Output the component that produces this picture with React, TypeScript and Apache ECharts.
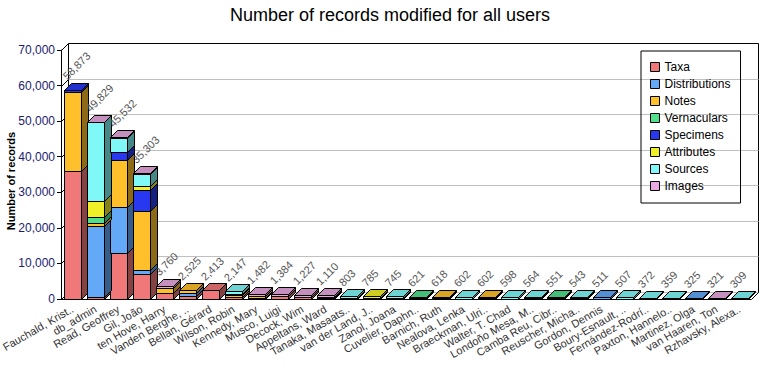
import React, { useEffect, useRef } from "react";
import * as echarts from "echarts";

const chartTitle = "Number of records modified for all users";
const yAxisTitle = "Number of records";

const categories = [
  "Fauchald, Krist..", "db_admin", "Read, Geoffrey", "Gil, João", "ten Hove, Harry",
  "Vanden Berghe, ..", "Bellan, Gérard", "Wilson, Robin", "Kennedy, Mary", "Musco, Luigi",
  "Decock, Wim", "Appeltans, Ward", "Tanaka, Masaats..", "van der Land, J..", "Zanol, Joana",
  "Cuvelier, Daphn..", "Barnich, Ruth", "Nealova, Lenka", "Braeckman, Ulri..", "Walter, T. Chad",
  "Londoño Mesa, M..", "Camba Reu, Cibr..", "Reuscher, Micha..", "Gordon, Dennis", "Boury-Esnault, ..",
  "Fernández-Rodrí..", "Paxton, Hannelo..", "Martinez, Olga", "van Haaren, Ton", "Rzhavsky, Alexa..",
];

const seriesNames = ["Taxa", "Distributions", "Notes", "Vernaculars", "Specimens", "Attributes", "Sources", "Images"];
const seriesColors = ["#f07878", "#64a8f8", "#ffc02c", "#50e08c", "#2838f0", "#f0f028", "#80f8f8", "#e8a8e0"];

const taxa = [36070, 450, 13020, 6940, 1800, 900, 2413, 600, 0, 800, 700, 400, 200, 200, 0, 200, 200, 0, 150, 0, 0, 0, 0, 0, 0, 0, 0, 0, 0, 0];
const distributions = [0, 20070, 12930, 1210, 0, 900, 0, 0, 300, 0, 0, 0, 0, 0, 0, 0, 0, 0, 0, 0, 0, 150, 0, 511, 0, 0, 0, 325, 0, 0];
const notes = [22200, 930, 13250, 16590, 1300, 725, 0, 400, 500, 0, 0, 0, 0, 0, 0, 0, 418, 0, 452, 0, 0, 0, 0, 0, 0, 0, 0, 0, 0, 0];
const vernaculars = [0, 1520, 0, 0, 0, 0, 0, 0, 0, 0, 0, 0, 0, 0, 0, 421, 0, 0, 0, 0, 0, 401, 0, 0, 0, 0, 0, 0, 0, 0];
const specimens = [603, 0, 2210, 5810, 0, 0, 0, 400, 0, 0, 0, 300, 0, 0, 250, 0, 0, 100, 0, 0, 150, 0, 150, 0, 0, 0, 0, 0, 0, 0];
const attributes = [0, 4670, 0, 1220, 0, 0, 0, 0, 0, 0, 0, 0, 0, 585, 0, 0, 0, 0, 0, 0, 0, 0, 0, 0, 0, 0, 0, 0, 0, 0];
const sources = [0, 22059, 3940, 3433, 0, 0, 0, 747, 0, 0, 0, 0, 603, 0, 495, 0, 0, 502, 0, 598, 414, 0, 393, 0, 507, 372, 359, 0, 0, 309];
const images = [0, 130, 182, 100, 660, 0, 0, 0, 682, 584, 527, 410, 0, 0, 0, 0, 0, 0, 0, 0, 0, 0, 0, 0, 0, 0, 0, 0, 321, 0];

const yTicks = [0, 10000, 20000, 30000, 40000, 50000, 60000, 70000];

const FONT = "'Liberation Sans', Arial, sans-serif";

function shade(hex: string, f: number) {
  const n = parseInt(hex.slice(1), 16);
  const r = Math.round(((n >> 16) & 255) * f);
  const g = Math.round(((n >> 8) & 255) * f);
  const b = Math.round((n & 255) * f);
  return `rgb(${r},${g},${b})`;
}

const fmt = (v: number) => v.toLocaleString("en-US");

export default function App() {
  const ref = useRef<HTMLDivElement>(null);

  useEffect(() => {
    document.body.style.margin = "0";
    const chart = echarts.init(ref.current as HTMLDivElement, null, { renderer: "svg" });

    const valueSets = [taxa, distributions, notes, vernaculars, specimens, attributes, sources, images];
    const starts: number[][] = [];
    const running = categories.map(() => 0);
    valueSets.forEach((arr) => {
      starts.push(running.slice());
      arr.forEach((v, i) => (running[i] += v));
    });
    const totals = running.slice();

    const depthOf = (api: any) => Math.round(api.size([1, 0])[0] * 0.3);

    const wallSeries: any = {
      type: "custom",
      name: "_wall",
      silent: true,
      clip: false,
      z: 1,
      data: yTicks.map((v) => [0, v]),
      encode: { x: 0, y: 1 },
      renderItem: (params: any, api: any) => {
        const cs = params.coordSys;
        const d = depthOf(api);
        const v = api.value(1);
        const y = Math.round(api.coord([0, v])[1]) + 0.5;
        const left = Math.round(cs.x) + 0.5;
        const right = Math.round(cs.x + cs.width) + 0.5;
        const top = Math.round(cs.y) + 0.5;
        const bottom = Math.round(cs.y + cs.height) + 0.5;
        const isTop = params.dataIndex === yTicks.length - 1;
        const children: any[] = [
          {
            type: "line",
            shape: { x1: left + d, y1: y - d, x2: right + d, y2: y - d },
            style: { stroke: isTop ? "#000" : "#c0c0c0", lineWidth: 1 },
          },
          {
            type: "line",
            shape: { x1: left, y1: y, x2: left + d, y2: y - d },
            style: { stroke: "#000", lineWidth: 1 },
          },
        ];
        if (params.dataIndex === 0) {
          children.push(
            { type: "line", shape: { x1: left + d, y1: top - d, x2: left + d, y2: bottom - d }, style: { stroke: "#000", lineWidth: 1 } },
            { type: "line", shape: { x1: right + d, y1: top - d, x2: right + d, y2: bottom - d }, style: { stroke: "#000", lineWidth: 1 } },
            { type: "line", shape: { x1: right, y1: bottom, x2: right + d, y2: bottom - d }, style: { stroke: "#000", lineWidth: 1 } }
          );
        }
        return { type: "group", children };
      },
    };

    const barSeries: any[] = valueSets.map((arr, k) => ({
      type: "custom",
      name: seriesNames[k],
      clip: false,
      z: 2,
      itemStyle: { color: seriesColors[k] },
      data: categories.map((_, i) => [i, starts[k][i], starts[k][i] + arr[i]]),
      encode: { x: 0, y: [1, 2] },
      renderItem: (params: any, api: any) => {
        const i = api.value(0);
        const lo = api.value(1);
        const hi = api.value(2);
        if (!(hi > lo)) return null;
        const band = api.size([1, 0])[0];
        const w = band * 0.7;
        const d = depthOf(api);
        const cb = api.coord([i, lo]);
        const ct = api.coord([i, hi]);
        const x0 = Math.round(cb[0] - w / 2) + 0.5;
        const x1 = Math.round(cb[0] + w / 2) + 0.5;
        const yb = Math.round(cb[1]) + 0.5;
        const yt = Math.round(ct[1]) + 0.5;
        const col = seriesColors[k];
        return {
          type: "group",
          children: [
            {
              type: "rect",
              shape: { x: x0, y: yt, width: x1 - x0, height: Math.max(0, yb - yt) },
              style: { fill: col, stroke: "#000", lineWidth: 1 },
            },
            {
              type: "polygon",
              shape: { points: [[x1, yb], [x1 + d, yb - d], [x1 + d, yt - d], [x1, yt]] },
              style: { fill: shade(col, 0.55), stroke: "#000", lineWidth: 1 },
            },
            {
              type: "polygon",
              shape: { points: [[x0, yt], [x1, yt], [x1 + d, yt - d], [x0 + d, yt - d]] },
              style: { fill: shade(col, 0.85), stroke: "#000", lineWidth: 1 },
            },
          ],
        };
      },
    }));

    const labelSeries: any = {
      type: "custom",
      name: "_labels",
      silent: true,
      clip: false,
      z: 3,
      data: totals.map((t, i) => [i, t]),
      encode: { x: 0, y: 1 },
      renderItem: (params: any, api: any) => {
        const p = api.coord([api.value(0), api.value(1)]);
        return {
          type: "text",
          x: p[0] - 4,
          y: p[1] - 8,
          rotation: Math.PI / 4,
          style: {
            text: fmt(api.value(1)),
            fill: "#555",
            fontSize: 11,
            fontFamily: FONT,
            align: "left",
            verticalAlign: "bottom",
          },
        };
      },
    };

    chart.setOption({
      animation: false,
      textStyle: { fontFamily: FONT },
      title: {
        text: chartTitle,
        left: "center",
        top: 6,
        padding: 0,
        textStyle: { fontSize: 18, fontWeight: "normal", color: "#000", fontFamily: FONT },
      },
      legend: {
        data: seriesNames,
        orient: "vertical",
        left: 641,
        top: 51,
        padding: [10, 10, 11, 9],
        itemGap: 5,
        itemWidth: 9,
        itemHeight: 9,
        icon: "rect",
        borderColor: "#000",
        borderWidth: 1,
        itemStyle: { borderColor: "#000", borderWidth: 1 },
        textStyle: { fontSize: 12, color: "#000", fontFamily: FONT, padding: [0, 0, 0, 0] },
      },
      grid: { left: 61, right: 29, top: 50, bottom: 81, containLabel: false, outerBoundsMode: "none" },
      xAxis: {
        type: "category",
        data: categories,
        axisLine: { lineStyle: { color: "#000", width: 1 } },
        axisTick: { alignWithLabel: true, length: 5, lineStyle: { color: "#000" } },
        axisLabel: { interval: 0, rotate: 30, fontSize: 11, color: "#333", margin: 9, fontFamily: FONT },
        splitLine: { show: false },
      },
      yAxis: {
        type: "value",
        min: 0,
        max: 70000,
        interval: 10000,
        name: yAxisTitle,
        nameLocation: "middle",
        nameGap: 45,
        nameMoveOverlap: false,
        nameRotate: 90,
        nameTextStyle: { fontSize: 11, fontWeight: "bold", color: "#000", fontFamily: FONT, padding: [0, 13, 0, 0] },
        axisLine: { show: true, lineStyle: { color: "#000", width: 1 } },
        axisTick: { show: true, length: 4, lineStyle: { color: "#000" } },
        axisLabel: { fontSize: 12, color: "#1c1c70", margin: 6, fontFamily: FONT, formatter: (v: number) => fmt(v) },
        splitLine: { show: false },
      },
      series: [wallSeries, ...barSeries, labelSeries],
    });

    return () => chart.dispose();
  }, []);

  return <div ref={ref} style={{ width: 780, height: 380 }} />;
}
